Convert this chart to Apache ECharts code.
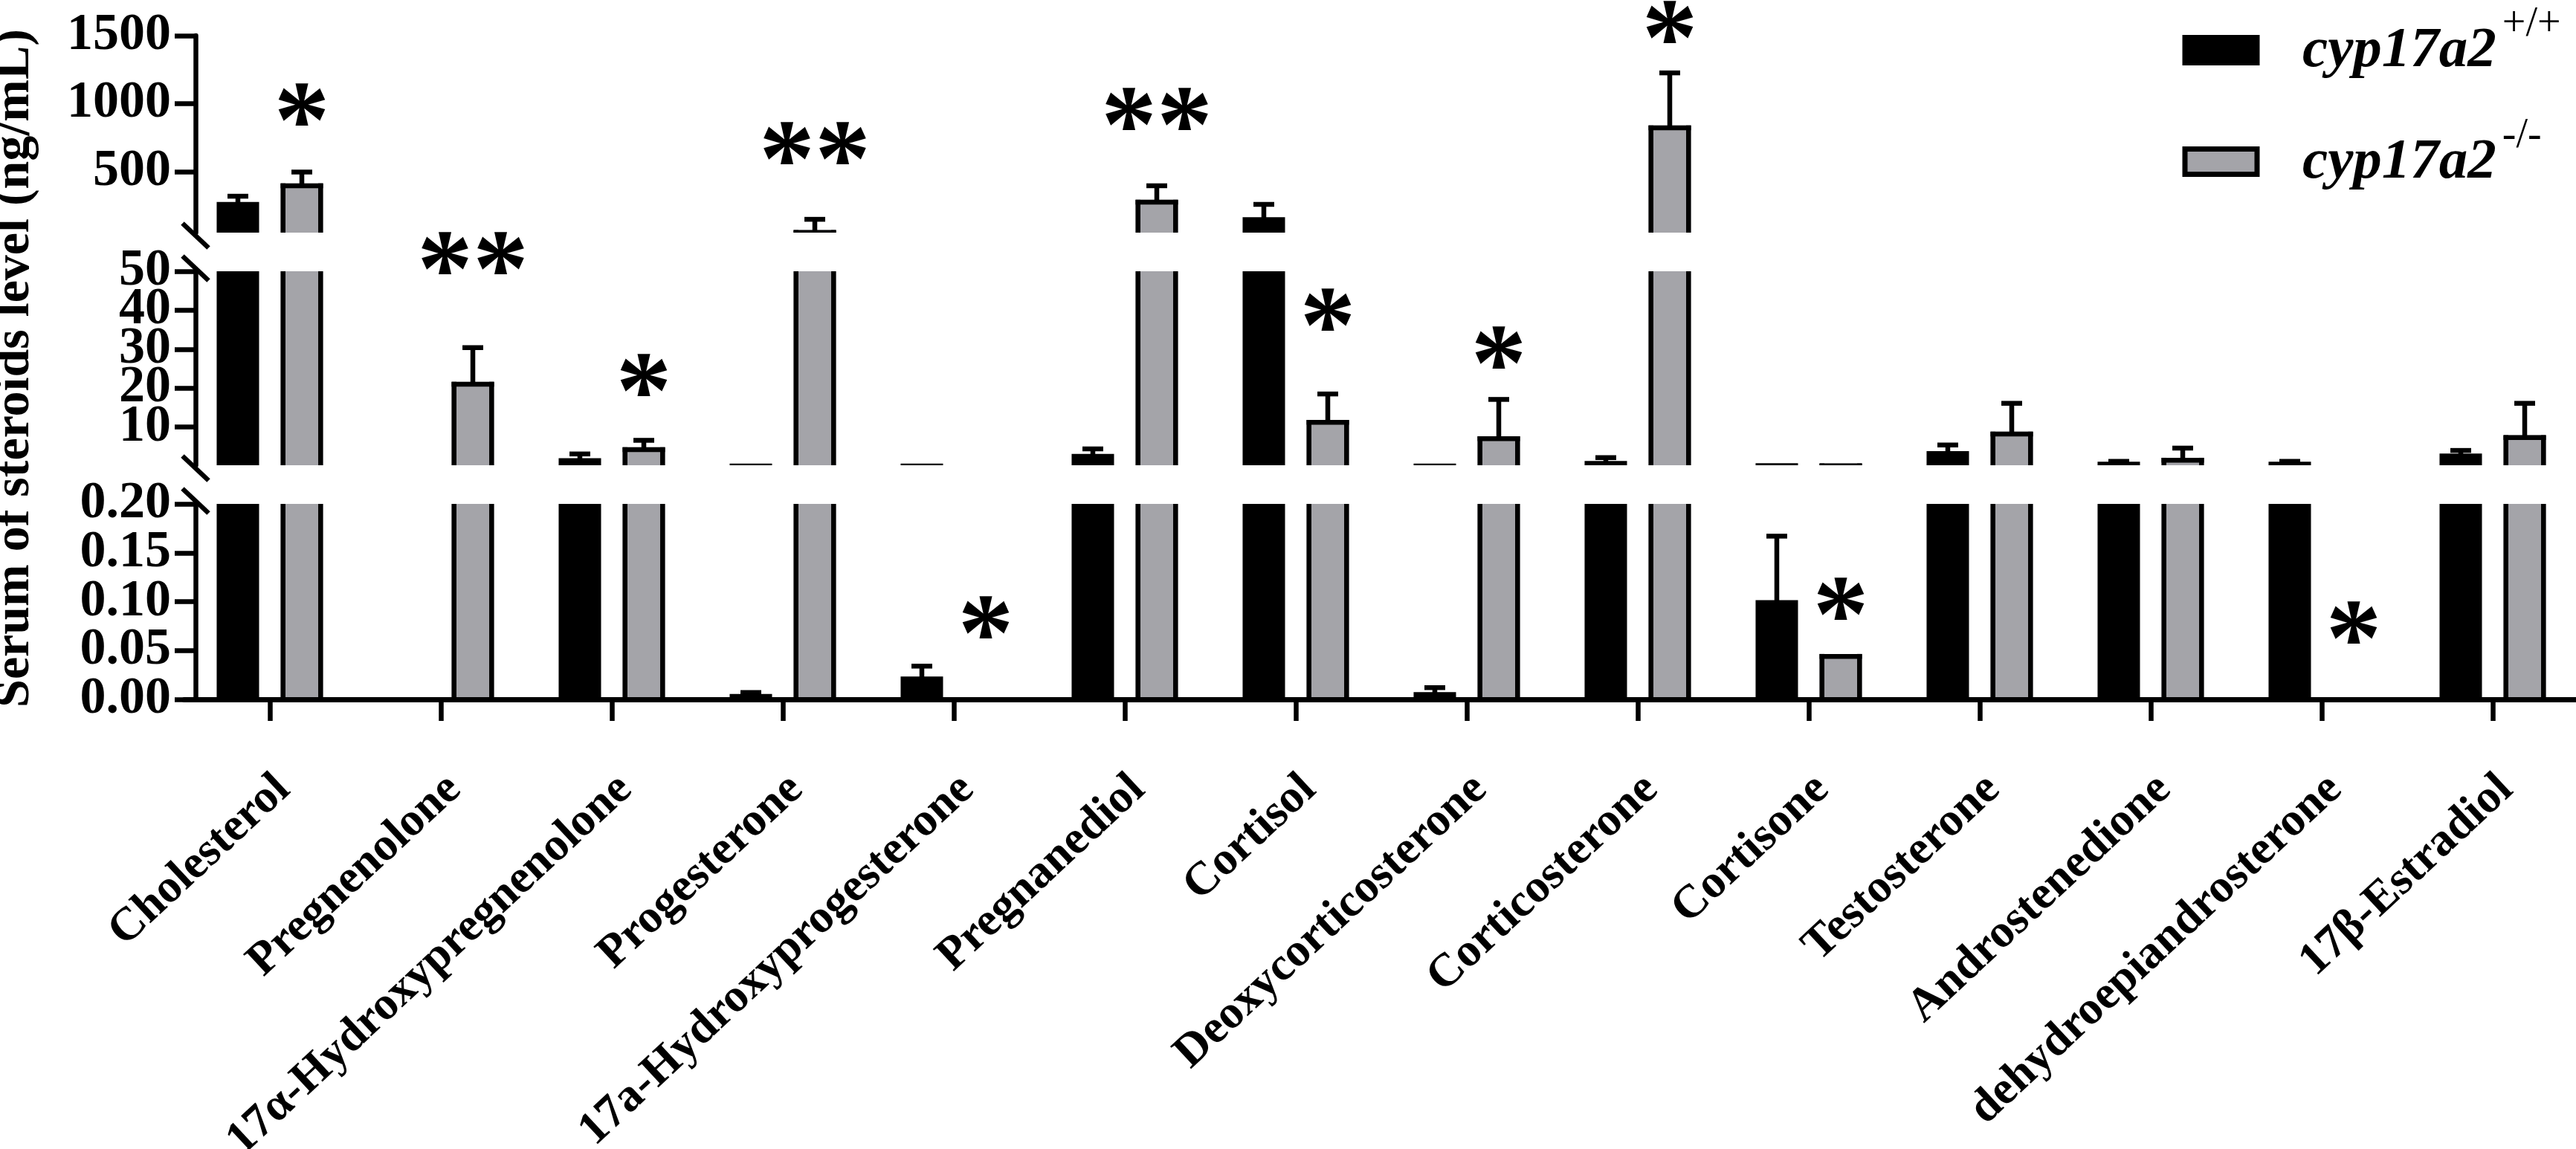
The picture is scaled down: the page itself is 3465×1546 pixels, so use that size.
<!DOCTYPE html>
<html>
<head>
    <meta charset="utf-8">
    <title>Serum of steroids level</title>
    <script src="https://cdn.jsdelivr.net/npm/echarts@6.0.0/dist/echarts.min.js"></script>
    <style>
        html, body { margin: 0; padding: 0; background: #fff; }
    </style>
</head>
<body>
    <div id="main" style="width: 3465px; height: 1546px;"></div>
    <script type="text/javascript">
        // categories (x axis)
        var categories = ['Cholesterol', 'Pregnenolone', '17α-Hydroxypregnenolone', 'Progesterone',
            '17a-Hydroxyprogesterone', 'Pregnanediol', 'Cortisol', 'Deoxycorticosterone',
            'Corticosterone', 'Cortisone', 'Testosterone', 'Androstenedione',
            'dehydroepiandrosterone', '17β-Estradiol'];

        // mean and SD, ng/mL
        var wtMean = [258, 0, 1.4, 0.003, 0.021, 2.5, 146, 0.005, 0.66, 0.099, 3.2, 0.5, 0.5, 2.6];
        var wtSD   = [60, 0, 1.7, 0.004, 0.013, 1.9, 112, 0.007, 1.5, 0.068, 2.2, 0.7, 0.7, 1.4];
        var koMean = [395, 21.0, 4.2, 51, 0, 274, 11.2, 7.0, 821, 0.044, 8.2, 1.5, 0, 7.3];
        var koSD   = [101, 9.4, 2.4, 97, 0, 121, 7.3, 10.1, 405, 0, 7.9, 3.1, 0, 8.8];

        // broken y axis: segments top, middle, bottom
        var segMin = [50, 0.2, 0];
        var segMax = [1500, 50, 0.2];
        var topTicks = [500, 1000, 1500];
        var middleTicks = [10, 20, 30, 40, 50];
        var bottomTicks = [0, 0.05, 0.1, 0.15, 0.2];

        // significance marks: category, text, segment (0 top, 1 middle, 2 bottom), value at mark
        var starCats  = [0, 1, 2, 3, 4, 5, 6, 7, 8, 9, 12];
        var starText  = ['*', '**', '*', '**', '*', '**', '*', '*', '*', '*', '*'];
        var starSeg   = [0, 1, 1, 0, 2, 0, 1, 1, 0, 2, 2];
        var starValue = [985, 54.4, 23.1, 701, 0.083, 953, 40.0, 30.2, 1593, 0.102, 0.078];

        var seriesNames = ['cyp17a2 +/+', 'cyp17a2 -/-'];

        // layout / style
        var FONT = 'Liberation Serif';
        var GREY = '#a4a4a9';
        var LW = 6.5;
        var AXIS_X = 263;
        var gridLeft = 248, gridWidth = 3220;
        var gridTop = [48, 365, 678];
        var gridHeight = [265, 261, 263];
        var BAR_W = 0.248, BAR_OFF = 0.187, CAP_W = 0.49;
        var STAR_SIZE = 150;

        var myChart = echarts.init(document.getElementById('main'));

        function barRenderer(group) {
            return function (params, api) {
                var cs = params.coordSys;
                var i = api.value(0), v = api.value(1), e = api.value(2);
                if (!(v > 0)) return null;
                var top = cs.y, bottom = cs.y + cs.height;
                var band = api.size([1, 0])[0];
                var p = api.coord([i, v]);
                var w = band * BAR_W;
                var cx = p[0] + band * BAR_OFF * (group === 0 ? -1 : 1);
                var x0 = cx - w / 2;
                var yv = p[1];
                var kids = [];
                var yFill = Math.max(yv - LW / 2, top);
                if (yFill < bottom) {
                    if (group === 0) {
                        kids.push({ type: 'rect', shape: { x: x0, y: yFill, width: w, height: bottom - yFill }, style: { fill: '#000' } });
                    } else {
                        kids.push({ type: 'rect', shape: { x: x0, y: yFill, width: w, height: bottom - yFill }, style: { fill: GREY } });
                        kids.push({ type: 'rect', shape: { x: x0, y: yFill, width: LW, height: bottom - yFill }, style: { fill: '#000' } });
                        kids.push({ type: 'rect', shape: { x: x0 + w - LW, y: yFill, width: LW, height: bottom - yFill }, style: { fill: '#000' } });
                        if (yv > top) {
                            kids.push({ type: 'rect', shape: { x: x0, y: yFill, width: w, height: Math.min(yv + LW / 2, bottom) - yFill }, style: { fill: '#000' } });
                        }
                    }
                }
                if (e > 0) {
                    var ye = api.coord([i, v + e])[1];
                    var a = Math.max(ye, top), b = Math.min(yv, bottom);
                    if (b > a) {
                        kids.push({ type: 'rect', shape: { x: cx - LW / 2, y: a, width: LW, height: b - a }, style: { fill: '#000' } });
                    }
                    if (ye >= top && ye <= bottom) {
                        var cw = w * CAP_W;
                        kids.push({ type: 'rect', shape: { x: cx - cw / 2, y: ye - LW / 2, width: cw, height: LW }, style: { fill: '#000' } });
                    }
                }
                return { type: 'group', children: kids };
            };
        }

        function starRenderer(params, api) {
            var p = api.coord([api.value(0), api.value(1)]);
            var band = api.size([1, 0])[0];
            var k = api.value(2);
            return {
                type: 'text',
                x: p[0] + band * BAR_OFF,
                y: p[1] + STAR_SIZE * 0.21,
                style: {
                    text: starText[k], fontSize: STAR_SIZE, fontFamily: FONT, fontWeight: 'bold',
                    fill: '#000', align: 'center', verticalAlign: 'middle'
                }
            };
        }

        function yLabel(val, g) {
            return '{n|' + (g === 2 ? val.toFixed(2) : String(val)) + '}';
        }

        // tick labels closer than the font height get dropped by echarts,
        // so every other label goes on a second, label-only axis in the same place
        function makeYAxis(g, labels, primary) {
            return {
                type: 'value', gridIndex: g, position: 'left', min: segMin[g], max: segMax[g],
                offset: gridLeft - AXIS_X, z: 5,
                axisLine: { show: primary, lineStyle: { color: '#000', width: LW } },
                axisTick: { show: primary, length: 28, lineStyle: { color: '#000', width: LW } },
                axisLabel: {
                    margin: 33, showMinLabel: true, showMaxLabel: true, hideOverlap: false,
                    customValues: labels,
                    formatter: function (val) { return yLabel(val, g); },
                    rich: { n: { color: '#000', fontFamily: FONT, fontWeight: 'bold', fontSize: 70, lineHeight: 30 } }
                },
                splitLine: { show: false }
            };
        }

        var segTicks = [topTicks, middleTicks, bottomTicks];
        var grids = [], xAxes = [], yAxes = [], series = [];
        for (var g = 0; g < 3; g++) {
            var isBottom = g === 2;
            grids.push({ left: gridLeft, width: gridWidth, top: gridTop[g], height: gridHeight[g], outerBoundsMode: 'none' });
            xAxes.push({
                type: 'category', gridIndex: g, data: categories, show: isBottom, z: 5,
                axisLine: { show: isBottom, lineStyle: { color: '#000', width: 7 } },
                axisTick: { show: isBottom, alignWithLabel: true, length: 29, lineStyle: { color: '#000', width: LW } },
                axisLabel: {
                    show: isBottom, interval: 0, rotate: 43, margin: 93,
                    formatter: function (name) { return '{c|' + name + '}'; },
                    rich: {
                        c: { color: '#000', fontFamily: FONT, fontWeight: 'bold', fontSize: 63, lineHeight: 63, padding: [53, 0, 0, 0] }
                    }
                },
                splitLine: { show: false }
            });

            var ticks = segTicks[g];
            var spread = g === 0;
            var mainLabels = spread ? ticks : ticks.filter(function (t, i) { return i % 2 === 0; });
            var altLabels = spread ? [] : ticks.filter(function (t, i) { return i % 2 === 1; });
            var ya = makeYAxis(g, mainLabels, true);
            ya.axisTick.customValues = ticks;
            if (g === 1) {
                ya.name = 'Serum of steroids level (ng/mL)';
                ya.nameLocation = 'middle';
                ya.nameRotate = 90;
                ya.nameGap = 209;
                ya.nameMoveOverlap = false;
                ya.nameTextStyle = { color: '#000', fontFamily: FONT, fontWeight: 'bold', fontSize: 68 };
            }
            var yIndex = yAxes.length;
            yAxes.push(ya);
            if (altLabels.length) yAxes.push(makeYAxis(g, altLabels, false));

            [wtMean, koMean].forEach(function (means, grp) {
                var sds = grp === 0 ? wtSD : koSD;
                series.push({
                    name: seriesNames[grp], type: 'custom', xAxisIndex: g, yAxisIndex: yIndex, z: 2, clip: false,
                    silent: true,
                    itemStyle: { color: grp === 0 ? '#000' : GREY },
                    encode: { x: 0, y: 1 },
                    data: categories.map(function (c, i) { return [i, means[i], sds[i]]; }),
                    renderItem: barRenderer(grp)
                });
            });

            var starData = [];
            for (var k = 0; k < starCats.length; k++) {
                if (starSeg[k] === g) starData.push([starCats[k], starValue[k], k]);
            }
            series.push({
                type: 'custom', xAxisIndex: g, yAxisIndex: yIndex, z: 4, clip: false, silent: true,
                encode: { x: 0, y: 1 },
                data: starData,
                renderItem: starRenderer
            });
        }

        // axis break marks, two slashes at each gap
        var breaks = [];
        for (var b = 0; b < 2; b++) {
            [gridTop[b] + gridHeight[b] + 4, gridTop[b + 1] - 4].forEach(function (cy) {
                breaks.push({
                    type: 'line', z: 10,
                    shape: { x1: AXIS_X - 17.5, y1: cy - 16.5, x2: AXIS_X + 17.5, y2: cy + 16.5 },
                    style: { stroke: '#000', lineWidth: LW }
                });
            });
        }

        var option = {
            animation: false,
            backgroundColor: '#fff',
            grid: grids,
            xAxis: xAxes,
            yAxis: yAxes,
            legend: {
                orient: 'vertical', left: 2935.5, top: 5.5, padding: 0,
                itemWidth: 97, itemHeight: 34, itemGap: 48, selectedMode: false,
                data: [
                    { name: seriesNames[0], icon: 'rect', itemStyle: { color: '#000', borderColor: '#000', borderWidth: 7 } },
                    { name: seriesNames[1], icon: 'rect', itemStyle: { color: GREY, borderColor: '#000', borderWidth: 7 } }
                ],
                formatter: function (name) {
                    var parts = name.split(' ');
                    return '{g|' + parts[0] + '}{s|' + parts[1] + '}';
                },
                textStyle: {
                    fontSize: 77, fontFamily: FONT,
                    rich: {
                        g: { fontFamily: FONT, fontStyle: 'italic', fontWeight: 'bold', fontSize: 77, lineHeight: 80,
                             verticalAlign: 'bottom', padding: [12, 0, 0, 56], color: '#000' },
                        s: { fontFamily: FONT, fontSize: 56, lineHeight: 30, verticalAlign: 'bottom',
                             padding: [0, 0, 46, 8], color: '#000' }
                    }
                }
            },
            graphic: breaks,
            series: series
        };
        myChart.setOption(option);
    </script>
</body>
</html>
